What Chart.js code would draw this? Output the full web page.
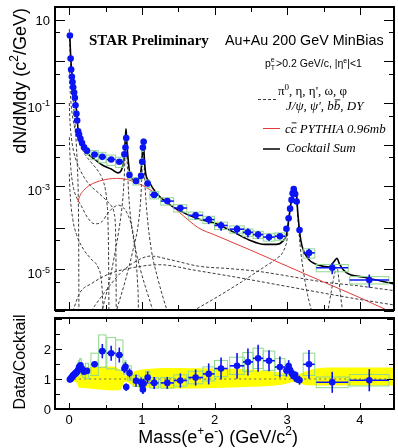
<!DOCTYPE html>
<html>
<head>
<meta charset="utf-8">
<script src="https://cdn.jsdelivr.net/npm/chart.js@4.4.0/dist/chart.umd.min.js"></script>
<style>
  html, body { margin: 0; padding: 0; background: #fff; }
  #wrap { position: relative; width: 398px; height: 448px; }
  canvas { position: absolute; left: 0; }
  #topPanel { top: 0; }
  #ratioPanel { top: 314px; }
</style>
</head>
<body>
<div id="wrap">
  <canvas id="topPanel" width="398" height="314"></canvas>
  <canvas id="ratioPanel" width="398" height="134"></canvas>
</div>
<script>
// Dielectron mass spectrum vs cocktail, Au+Au 200 GeV (STAR preliminary)

// measured points
const dataMass = [0.01, 0.02, 0.027, 0.037, 0.046, 0.055, 0.068, 0.078, 0.087, 0.10,
  0.11, 0.123, 0.136, 0.155, 0.177, 0.205, 0.245, 0.35, 0.456, 0.578,
  0.69, 0.76, 0.775, 0.785, 0.83, 0.92, 0.99, 1.005, 1.015, 1.025,
  1.08, 1.17, 1.35, 1.53, 1.74, 1.92, 2.09, 2.31, 2.46, 2.60,
  2.75, 2.90, 2.99, 3.02, 3.04, 3.06, 3.075, 3.09, 3.11, 3.13,
  3.17, 3.30, 3.62, 4.13];
const dataYield = [4.2, 1.18, 0.64, 0.43, 0.32, 0.24, 0.18, 0.134, 0.089, 0.055,
  0.038, 0.021, 0.0176, 0.0139, 0.011, 0.0086, 0.0071, 0.0058, 0.0051, 0.0044,
  0.0039, 0.0059, 0.0085, 0.0145, 0.00186, 0.00134, 0.00178, 0.0039, 0.0085, 0.0118,
  0.00117, 0.00062, 0.00044, 0.0003, 0.0002, 1.58e-4, 1.14e-4, 9.3e-5, 7.8e-5, 6.9e-5,
  6.0e-5, 6.3e-5, 9.5e-5, 1.7e-4, 2.9e-4, 4.7e-4, 6.8e-4, 8.6e-4, 6.5e-4, 4.3e-4,
  8.9e-5, 2.5e-5, 1.1e-5, 5.6e-6];
const yieldStat = [0.03, 0.03, 0.03, 0.03, 0.03, 0.03, 0.03, 0.03, 0.03, 0.04,
  0.05, 0.05, 0.06, 0.06, 0.07, 0.08, 0.08, 0.08, 0.1, 0.1,
  0.1, 0.1, 0.08, 0.08, 0.12, 0.12, 0.12, 0.1, 0.1, 0.1,
  0.15, 0.15, 0.15, 0.18, 0.2, 0.22, 0.25, 0.25, 0.25, 0.22,
  0.2, 0.15, 0.12, 0.1, 0.08, 0.08, 0.08, 0.08, 0.08, 0.1,
  0.15, 0.25, 0.3, 0.35];
const ratioVal = [0.98, 1.0, 1.03, 1.06, 1.09, 1.12, 1.14, 1.17, 1.19, 1.22,
  1.25, 1.3, 1.4, 1.46, 1.33, 1.24, 1.27, 1.49, 1.93, 1.86,
  1.8, 1.35, 1.41, 0.73, 1.2, 0.94, 0.89, 0.8, 0.65, 0.85,
  1.05, 0.87, 0.87, 0.95, 1.05, 1.17, 1.35, 1.44, 1.57, 1.69,
  1.61, 1.4, 1.28, 1.43, 1.3, 1.21, 1.15, 1.09, 1.14, 1.0,
  0.96, 1.49, 0.89, 0.96];
const ratioStat = [0.04, 0.04, 0.04, 0.04, 0.04, 0.04, 0.04, 0.04, 0.04, 0.05,
  0.05, 0.06, 0.07, 0.08, 0.08, 0.08, 0.08, 0.1, 0.24, 0.25,
  0.25, 0.15, 0.15, 0.12, 0.15, 0.2, 0.15, 0.15, 0.15, 0.15,
  0.2, 0.2, 0.2, 0.24, 0.27, 0.35, 0.37, 0.43, 0.45, 0.45,
  0.35, 0.35, 0.2, 0.2, 0.15, 0.12, 0.1, 0.08, 0.1, 0.12,
  0.15, 0.48, 0.35, 0.37];
const binHalf = [0.004, 0.004, 0.004, 0.004, 0.004, 0.004, 0.004, 0.004, 0.004, 0.005,
  0.005, 0.006, 0.01, 0.012, 0.012, 0.015, 0.02, 0.05, 0.05, 0.06,
  0.05, 0.01, 0.008, 0.008, 0.025, 0.04, 0.01, 0.005, 0.005, 0.005,
  0.03, 0.06, 0.09, 0.09, 0.1, 0.08, 0.09, 0.1, 0.07, 0.07,
  0.08, 0.07, 0.02, 0.01, 0.01, 0.01, 0.008, 0.008, 0.01, 0.01,
  0.02, 0.08, 0.22, 0.27];
const sysFrac = [0.06, 0.06, 0.06, 0.06, 0.06, 0.06, 0.06, 0.06, 0.06, 0.1,
  0.12, 0.15, 0.15, 0.15, 0.15, 0.15, 0.2, 0.25, 0.28, 0.28,
  0.28, 0.15, 0.15, 0.15, 0.2, 0.2, 0.2, 0.2, 0.2, 0.2,
  0.2, 0.2, 0.2, 0.2, 0.2, 0.2, 0.2, 0.2, 0.2, 0.2,
  0.2, 0.2, 0.08, 0.08, 0.08, 0.08, 0.08, 0.08, 0.08, 0.08,
  0.08, 0.25, 0.2, 0.2];

// cocktail sum and charm
const sumMass = [0.008, 0.02, 0.03, 0.05, 0.07, 0.09, 0.11, 0.13, 0.15, 0.19,
  0.28, 0.37, 0.46, 0.578, 0.67, 0.71, 0.74, 0.76, 0.772, 0.782,
  0.792, 0.805, 0.83, 0.9, 0.96, 0.99, 1.005, 1.014, 1.019, 1.025,
  1.035, 1.05, 1.1, 1.2, 1.35, 1.5, 1.75, 2.0, 2.24, 2.47,
  2.69, 2.85, 2.94, 2.99, 3.03, 3.07, 3.097, 3.125, 3.148, 3.19,
  3.28, 3.42, 3.58, 3.65, 3.686, 3.72, 3.81, 4.06, 4.47];
const sumVal = [4.5, 1.4, 0.75, 0.33, 0.17, 0.1, 0.045, 0.0145, 0.0115, 0.0085,
  0.0055, 0.0042, 0.0032, 0.0026, 0.0021, 0.0023, 0.0032, 0.006, 0.013, 0.024,
  0.013, 0.006, 0.0023, 0.0014, 0.0015, 0.0025, 0.0055, 0.01, 0.0126, 0.009,
  0.0045, 0.0022, 0.0013, 6.8e-4, 4e-4, 2.7e-4, 1.7e-4, 1.3e-4, 8.3e-5, 5.2e-5,
  4e-5, 4e-5, 4.8e-5, 6.9e-5, 2.1e-4, 6.2e-4, 9.3e-4, 7.4e-4, 2.1e-4, 4.8e-5,
  1.9e-5, 1.3e-5, 1.15e-5, 1.6e-5, 1.85e-5, 1.35e-5, 8.5e-6, 6.5e-6, 4.5e-6];
const ccMass = [0.12, 0.15, 0.2, 0.28, 0.37, 0.46, 0.55, 0.65, 0.75, 0.83,
  0.92, 1.01, 1.1, 1.19, 1.35, 1.5, 1.78, 2.0, 2.5, 3.0,
  3.5, 4.0, 4.35, 4.47];
const ccVal = [4.2e-4, 6e-4, 8e-4, 1.05e-3, 1.25e-3, 1.4e-3, 1.5e-3, 1.55e-3, 1.5e-3, 1.4e-3,
  1.22e-3, 1.05e-3, 8.5e-4, 6.8e-4, 4.2e-4, 2.5e-4, 1e-4, 6.8e-5, 2.9e-5, 1.2e-5,
  5e-6, 2.1e-6, 1.1e-6, 9e-7];

// individual cocktail sources (dashed)
const piDalitzMass = [0.002, 0.01, 0.02, 0.04, 0.06, 0.08, 0.1, 0.115, 0.125, 0.13, 0.133, 0.135];
const piDalitzVal = [6, 2.5, 0.9, 0.25, 0.09, 0.032, 0.009, 0.0025, 6e-4, 1e-4, 5e-6, 3e-7];
const etaDalitzMass = [0.002, 0.01, 0.03, 0.06, 0.1, 0.15, 0.2, 0.3, 0.4, 0.45, 0.5, 0.52, 0.535, 0.545, 0.548];
const etaDalitzVal = [0.6, 0.25, 0.08, 0.035, 0.018, 0.011, 0.0066, 0.0038, 0.0023, 0.0016, 8e-4, 4e-4, 1.2e-4, 6e-6, 3e-7];
const omegaDalitzMass = [0.002, 0.01, 0.03, 0.06, 0.1, 0.2, 0.3, 0.4, 0.5, 0.58, 0.62, 0.64, 0.646, 0.648];
const omegaDalitzVal = [0.1, 0.04, 0.015, 0.007, 0.004, 0.0017, 0.001, 7e-4, 4.8e-4, 3.4e-4, 2.2e-4, 6e-5, 5e-6, 3e-7];
const etapDalitzMass = [0.002, 0.01, 0.03, 0.06, 0.1, 0.17, 0.25, 0.35, 0.45, 0.52, 0.6, 0.68, 0.75, 0.8, 0.86, 0.91, 0.94, 0.955, 0.958];
const etapDalitzVal = [0.015, 0.006, 0.002, 9e-4, 5.5e-4, 3.3e-4, 1.8e-4, 1.25e-4, 1.4e-4, 2.1e-4, 3e-4, 3.5e-4, 3e-4, 2.2e-4, 1.1e-4, 3e-5, 5e-6, 4e-7, 1e-8];
const phiDalitzMass = [0.002, 0.01, 0.05, 0.1, 0.2, 0.3, 0.4, 0.44, 0.46, 0.468, 0.471];
const phiDalitzVal = [2e-3, 8e-4, 1.6e-4, 7e-5, 3e-5, 1.8e-5, 1.1e-5, 6e-6, 2e-6, 4e-7, 1e-8];
const omegaMass = [0.3, 0.45, 0.55, 0.62, 0.68, 0.72, 0.745, 0.76, 0.77, 0.778, 0.782, 0.786, 0.794, 0.805, 0.82, 0.85, 0.9, 0.98, 1.1, 1.25];
const omegaVal = [1e-7, 1e-6, 5e-6, 2e-5, 8e-5, 2.5e-4, 7e-4, 0.002, 0.006, 0.015, 0.021, 0.015, 0.006, 0.002, 6e-4, 1.5e-4, 4e-5, 1e-5, 2e-6, 3e-7];
const phiMass = [0.5, 0.65, 0.78, 0.88, 0.95, 0.985, 1.0, 1.01, 1.016, 1.019, 1.022, 1.028, 1.038, 1.055, 1.08, 1.13, 1.22, 1.35, 1.5];
const phiVal = [1e-7, 1e-6, 6e-6, 3e-5, 1.2e-4, 5e-4, 0.0018, 0.005, 0.0095, 0.0115, 0.0095, 0.005, 0.0018, 5e-4, 1.5e-4, 3e-5, 6e-6, 1e-6, 2e-7];
const jpsiMass = [1.7, 2.0, 2.37, 2.7, 2.85, 2.95, 3.0, 3.03, 3.06, 3.085, 3.097, 3.11, 3.13, 3.15, 3.18, 3.22, 3.28, 3.35, 3.4];
const jpsiVal = [1e-6, 2e-6, 5e-6, 1.2e-5, 1.8e-5, 2.8e-5, 5.5e-5, 1.8e-4, 5e-4, 8.5e-4, 9e-4, 8e-4, 5e-4, 1.5e-4, 3.5e-5, 1e-5, 2.5e-6, 8e-7, 3e-7];
const psi2sMass = [3.5, 3.56, 3.6, 3.63, 3.66, 3.686, 3.71, 3.74, 3.77, 3.8];
const psi2sVal = [3e-7, 1e-6, 2.5e-6, 5e-6, 9e-6, 1.15e-5, 6e-6, 2e-6, 8e-7, 3e-7];
const bbMass = [0.05, 0.15, 0.3, 0.55, 0.87, 1.24, 1.74, 2.3, 2.9, 3.5, 4.0, 4.47];
const bbVal = [1e-6, 2.8e-6, 4.5e-6, 7.8e-6, 1.1e-5, 1.3e-5, 9.5e-6, 6.5e-6, 4.2e-6, 2.7e-6, 1.9e-6, 1.4e-6];
const dyMass = [0.3, 0.5, 0.7, 0.9, 1.12, 1.4, 1.78, 2.2, 2.6, 3.0, 3.5, 4.0, 4.47];
const dyVal = [1e-6, 3e-6, 8e-6, 1.5e-5, 2.1e-5, 1.7e-5, 1.2e-5, 1.05e-5, 9e-6, 7e-6, 5e-6, 4e-6, 3.1e-6];

// cocktail uncertainty band in the ratio panel
const bandMass = [0.0, 0.05, 0.1, 0.13, 0.2, 0.4, 0.6, 0.7, 0.74, 0.77, 0.8, 0.85, 0.95, 1.0,
  1.05, 1.2, 1.5, 2.0, 2.5, 2.9, 3.0, 3.08, 3.15, 3.25, 3.4, 3.6, 4.0, 4.47];
const bandLow = [0.95, 0.92, 0.88, 0.72, 0.7, 0.65, 0.62, 0.63, 0.8, 0.92, 0.9, 0.82, 0.72, 0.7,
  0.72, 0.7, 0.68, 0.7, 0.74, 0.8, 0.85, 0.9, 0.87, 0.8, 0.78, 0.78, 0.78, 0.78];
const bandHigh = [1.05, 1.08, 1.15, 1.3, 1.38, 1.42, 1.42, 1.3, 1.2, 1.12, 1.12, 1.2, 1.3, 1.32,
  1.33, 1.36, 1.37, 1.35, 1.32, 1.22, 1.18, 1.12, 1.15, 1.25, 1.35, 1.38, 1.38, 1.38];

// axis ticks
const massTicks = [0, 0.5, 1, 1.5, 2, 2.5, 3, 3.5, 4];
const massLabels = ['0', '1', '2', '3', '4'];
const yieldTicks = [1e-6, 5e-6, 1e-5, 5e-5, 1e-4, 5e-4, 1e-3, 5e-3, 0.01, 0.05, 0.1, 0.5, 1, 5, 10];
const yieldLabelVals = [10, 0.1, 1e-3, 1e-5];
const yieldLabelExp = ['', '-1', '-3', '-5'];
const ratioTicks = [0, 0.5, 1, 1.5, 2, 2.5, 3];
const ratioLabels = ['0', '1', '2'];

const SANS = '"Liberation Sans", Arial, sans-serif';
const SERIF = '"Liberation Serif", "Times New Roman", serif';
const BLUE = '#0a14f5';
const BOXGREEN = '#8fd88f';
const DASH = '#3a3a3a';

const pts = (xs, ys) => xs.map((x, i) => ({ x, y: ys[i] }));

function fontOf(style, size, family) {
  return `${style} ${size}px ${family}`;
}

// draws text made of parts: [text, kind], kind = '' | 'sup' | 'sub' | 'bar' | 'ss'
function drawRich(ctx, x, y, parts, o) {
  const base = o.size;
  const small = Math.round(base * 0.68);
  const st = o.style || 'normal';
  const segs = parts.map(p => (Array.isArray(p) ? p : [p, '']));
  const widths = segs.map(([t, k]) => {
    if (k === 'ss') {
      ctx.font = fontOf(st, small, o.family);
      return Math.max(ctx.measureText(t[0]).width, ctx.measureText(t[1]).width) + 1;
    }
    ctx.font = fontOf(st, k === 'sup' || k === 'sub' ? small : base, o.family);
    return ctx.measureText(t).width;
  });
  const total = widths.reduce((a, b) => a + b, 0);
  let cx = o.align === 'right' ? x - total : o.align === 'center' ? x - total / 2 : x;
  ctx.fillStyle = o.color || '#000';
  ctx.strokeStyle = o.color || '#000';
  ctx.textAlign = 'left';
  ctx.textBaseline = 'alphabetic';
  segs.forEach(([t, k], i) => {
    if (k === 'sup') {
      ctx.font = fontOf(st, small, o.family);
      ctx.fillText(t, cx, y - base * 0.42);
    } else if (k === 'sub') {
      ctx.font = fontOf(st, small, o.family);
      ctx.fillText(t, cx, y + base * 0.22);
    } else if (k === 'ss') {
      ctx.font = fontOf(st, small, o.family);
      ctx.fillText(t[0], cx, y + base * 0.25);
      ctx.fillText(t[1], cx, y - base * 0.45);
    } else {
      ctx.font = fontOf(st, base, o.family);
      ctx.fillText(t, cx, y);
      if (k === 'bar') {
        ctx.lineWidth = 0.9;
        ctx.beginPath();
        ctx.moveTo(cx + 1, y - base * 0.78);
        ctx.lineTo(cx + widths[i], y - base * 0.78);
        ctx.stroke();
      }
    }
    cx += widths[i];
  });
  return total;
}

function seg(ctx, x1, y1, x2, y2) {
  ctx.beginPath();
  ctx.moveTo(x1, y1);
  ctx.lineTo(x2, y2);
  ctx.stroke();
}

const isDecade = v => Math.abs(Math.log10(v) - Math.round(Math.log10(v))) < 1e-9;

// green systematic boxes and blue error bars, drawn just before the markers
function errorPlugin(values, relErr, absErr) {
  return {
    id: 'errors',
    beforeDatasetDraw(chart, args) {
      if (chart.data.datasets[args.index].label !== 'data') return;
      const { ctx, chartArea: a, scales: { x, y } } = chart;
      ctx.save();
      ctx.beginPath();
      ctx.rect(a.left, a.top, a.right - a.left, a.bottom - a.top);
      ctx.clip();
      ctx.strokeStyle = BOXGREEN;
      ctx.lineWidth = 1;
      dataMass.forEach((m, i) => {
        const v = values[i];
        const s = v * sysFrac[i];
        const x0 = x.getPixelForValue(m - binHalf[i]);
        const x1 = x.getPixelForValue(m + binHalf[i]);
        const y0 = y.getPixelForValue(v + s);
        const y1 = y.getPixelForValue(Math.max(v - s, 1e-9));
        ctx.strokeRect(x0, y0, x1 - x0, y1 - y0);
      });
      ctx.strokeStyle = BLUE;
      ctx.lineWidth = 1.6;
      dataMass.forEach((m, i) => {
        const v = values[i];
        const e = relErr ? v * relErr[i] : absErr[i];
        const px = x.getPixelForValue(m);
        const py = y.getPixelForValue(v);
        seg(ctx, px, y.getPixelForValue(v + e), px, y.getPixelForValue(Math.max(v - e, 1e-9)));
        seg(ctx, x.getPixelForValue(m - binHalf[i]), py, x.getPixelForValue(m + binHalf[i]), py);
      });
      ctx.restore();
    }
  };
}

const topDecor = {
  id: 'topDecor',
  afterDraw(chart) {
    const { ctx, chartArea: a, scales: { x, y } } = chart;
    ctx.save();
    ctx.strokeStyle = '#000';
    ctx.lineWidth = 1;
    massTicks.forEach(v => {
      const px = Math.round(x.getPixelForValue(v)) + 0.5;
      const len = v % 1 === 0 ? 8 : 5;
      seg(ctx, px, a.bottom, px, a.bottom - len);
      seg(ctx, px, a.top, px, a.top + len);
    });
    yieldTicks.forEach(v => {
      const py = Math.round(y.getPixelForValue(v)) + 0.5;
      const len = isDecade(v) ? 10 : 5;
      seg(ctx, a.left, py, a.left + len, py);
      seg(ctx, a.right, py, a.right - len, py);
    });
    ctx.lineWidth = 2;
    ctx.strokeRect(a.left, a.top, a.right - a.left, a.bottom - a.top);

    // y tick labels
    yieldLabelVals.forEach((v, i) => {
      const py = y.getPixelForValue(v);
      const parts = yieldLabelExp[i] ? [['10', ''], [yieldLabelExp[i], 'sup']] : [['10', '']];
      const shift = yieldLabelExp[i] ? 4 : 0;
      drawRich(ctx, 50, py + 4.7 + shift, parts, { size: 13, family: SANS, align: 'right' });
    });

    // y axis title
    ctx.save();
    ctx.translate(26, 8);
    ctx.rotate(-Math.PI / 2);
    drawRich(ctx, 0, 0, [['dN/dMdy (c', ''], ['2', 'sup'], ['/GeV)', '']],
      { size: 18, family: SANS, align: 'right' });
    ctx.restore();

    // header texts
    drawRich(ctx, 89, 45, [['STAR Preliminary', '']], { size: 15, family: SERIF, style: 'bold' });
    drawRich(ctx, 225, 45, [['Au+Au 200 GeV MinBias', '']], { size: 14.3, family: SANS });
    drawRich(ctx, 265, 67, [['p', ''], [['T', 'e'], 'ss'], ['>0.2 GeV/c, |\u03b7', ''], ['e', 'sup'], ['|<1', '']],
      { size: 10.5, family: SANS });

    // legend
    drawRich(ctx, 278, 95, [['\u03c0', ''], ['0', 'sup'], [', \u03b7, \u03b7\', \u03c9, \u03c6', '']],
      { size: 13, family: SERIF });
    drawRich(ctx, 286, 110, [['J/\u03c8, \u03c8\', b', ''], ['b', 'bar'], [', DY', '']],
      { size: 13, family: SERIF, style: 'italic' });
    drawRich(ctx, 285, 133, [['c', ''], ['c', 'bar'], [' PYTHIA 0.96mb', '']],
      { size: 13, family: SERIF, style: 'italic' });
    drawRich(ctx, 286, 152, [['Cocktail Sum', '']], { size: 13, family: SERIF, style: 'italic' });

    ctx.lineWidth = 1;
    ctx.strokeStyle = DASH;
    ctx.setLineDash([3, 2]);
    seg(ctx, 258, 99.5, 276, 99.5);
    ctx.setLineDash([]);
    ctx.strokeStyle = '#e23a3a';
    seg(ctx, 263, 128.5, 280, 128.5);
    ctx.strokeStyle = '#000';
    ctx.lineWidth = 1.5;
    seg(ctx, 263, 149, 280, 149);
    ctx.restore();
  }
};

const ratioDecor = {
  id: 'ratioDecor',
  afterDraw(chart) {
    const { ctx, chartArea: a, scales: { x, y } } = chart;
    ctx.save();
    ctx.strokeStyle = '#000';
    ctx.lineWidth = 1;
    massTicks.forEach(v => {
      const px = Math.round(x.getPixelForValue(v)) + 0.5;
      const len = v % 1 === 0 ? 6 : 4;
      seg(ctx, px, a.bottom, px, a.bottom - len);
      seg(ctx, px, a.top, px, a.top + len);
    });
    ratioTicks.forEach(v => {
      const py = Math.round(y.getPixelForValue(v)) + 0.5;
      const len = v % 1 === 0 ? 7 : 5;
      seg(ctx, a.left, py, a.left + len, py);
      seg(ctx, a.right, py, a.right - len, py);
    });
    ctx.lineWidth = 2;
    ctx.strokeRect(a.left, a.top, a.right - a.left, a.bottom - a.top);

    ratioLabels.forEach((t, i) => {
      drawRich(ctx, 51, y.getPixelForValue(i) + 4.7, [[t, '']], { size: 13, family: SANS, align: 'right' });
    });
    massLabels.forEach((t, i) => {
      drawRich(ctx, x.getPixelForValue(i), 110, [[t, '']], { size: 13, family: SANS, align: 'center' });
    });

    drawRich(ctx, 298, 129, [['Mass(e', ''], ['+', 'sup'], ['e', ''], ['-', 'sup'], [') (GeV/c', ''], ['2', 'sup'], [')', '']],
      { size: 18, family: SANS, align: 'right' });

    ctx.save();
    ctx.translate(25, 48);
    ctx.rotate(-Math.PI / 2);
    drawRich(ctx, 0, 0, [['Data/Cocktail', '']], { size: 16, family: SANS, align: 'center' });
    ctx.restore();
    ctx.restore();
  }
};

const dashedSources = [
  [piDalitzMass, piDalitzVal], [etaDalitzMass, etaDalitzVal], [omegaDalitzMass, omegaDalitzVal],
  [etapDalitzMass, etapDalitzVal], [phiDalitzMass, phiDalitzVal], [omegaMass, omegaVal],
  [phiMass, phiVal], [jpsiMass, jpsiVal], [psi2sMass, psi2sVal], [bbMass, bbVal], [dyMass, dyVal]
];

const curve = (xs, ys, color, width, dash, order) => ({
  type: 'line',
  label: 'curve',
  data: pts(xs, ys),
  borderColor: color,
  borderWidth: width,
  borderDash: dash,
  pointRadius: 0,
  cubicInterpolationMode: 'monotone',
  fill: false,
  order
});

new Chart(document.getElementById('topPanel'), {
  type: 'scatter',
  data: {
    datasets: [
      {
        label: 'data',
        data: pts(dataMass, dataYield),
        pointRadius: 3.3,
        backgroundColor: BLUE,
        borderColor: BLUE,
        borderWidth: 0,
        order: 0
      },
      curve(sumMass, sumVal, '#000', 1.6, [], 1),
      curve(ccMass, ccVal, '#e23a3a', 1, [], 2),
      ...dashedSources.map(([xs, ys]) => curve(xs, ys, DASH, 1, [3, 2], 3))
    ]
  },
  options: {
    responsive: false,
    animation: false,
    events: [],
    layout: { padding: { left: 55, right: 1, top: 7, bottom: 1 } },
    plugins: { legend: { display: false }, tooltip: { enabled: false } },
    scales: {
      x: { type: 'linear', min: -0.195, max: 4.47, display: false },
      y: { type: 'logarithmic', min: 1.06e-6, max: 20.4, display: false }
    }
  },
  plugins: [errorPlugin(dataYield, yieldStat, null), topDecor]
});

new Chart(document.getElementById('ratioPanel'), {
  type: 'scatter',
  data: {
    datasets: [
      {
        label: 'data',
        data: pts(dataMass, ratioVal),
        pointRadius: 3.3,
        backgroundColor: BLUE,
        borderColor: BLUE,
        borderWidth: 0,
        order: 0
      },
      {
        type: 'line',
        label: 'unity',
        data: pts([0, 4.47], [1, 1]),
        borderColor: '#666',
        borderWidth: 1,
        borderDash: [2, 3],
        pointRadius: 0,
        order: 1
      },
      {
        type: 'line',
        label: 'bandLow',
        data: pts(bandMass, bandLow),
        borderColor: 'rgba(0,0,0,0)',
        borderWidth: 0,
        pointRadius: 0,
        cubicInterpolationMode: 'monotone',
        fill: false,
        order: 3
      },
      {
        type: 'line',
        label: 'bandHigh',
        data: pts(bandMass, bandHigh),
        borderColor: 'rgba(0,0,0,0)',
        backgroundColor: '#ffff00',
        borderWidth: 0,
        pointRadius: 0,
        cubicInterpolationMode: 'monotone',
        fill: '-1',
        order: 2
      }
    ]
  },
  options: {
    responsive: false,
    animation: false,
    events: [],
    layout: { padding: { left: 55, right: 1, top: 0, bottom: 39 } },
    plugins: { legend: { display: false }, tooltip: { enabled: false } },
    scales: {
      x: { type: 'linear', min: -0.195, max: 4.47, display: false },
      y: { type: 'linear', min: 0, max: 3.035, display: false }
    }
  },
  plugins: [errorPlugin(ratioVal, null, ratioStat), ratioDecor]
});
</script>
</body>
</html>
